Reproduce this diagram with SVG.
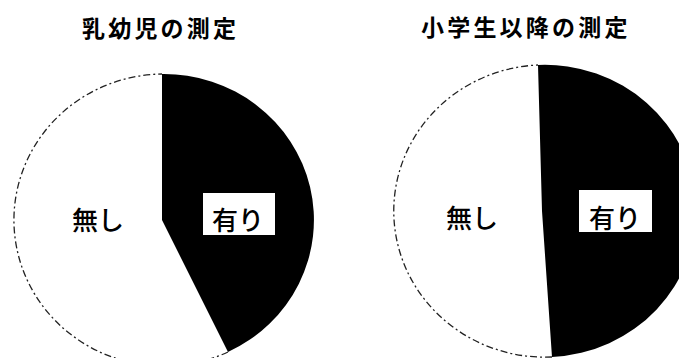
<svg xmlns="http://www.w3.org/2000/svg" width="679" height="358" viewBox="0 0 679 358">
<style>
.title{font-family:"Noto Sans CJK JP","Noto Sans CJK SC",sans-serif;font-weight:700;font-size:23px;letter-spacing:3.2px;fill:#000}
.lbl{font-family:"Noto Sans CJK JP","Noto Sans CJK SC",sans-serif;font-weight:500;font-size:26px;fill:#000}
.dark{fill:#000}
.light{fill:#fff}
.rim{fill:none;stroke:#222;stroke-width:1.3;stroke-dasharray:7 3 2 3}
.box{fill:#fff}
</style>
<rect width="679" height="358" fill="#fff"/>
<g id="chart-left">
  <text class="title" x="82" y="37">乳幼児の測定</text>
  <path id="left-none" class="light" d="M162,220 L228,352 A150,146 0 1,1 162,74 Z"/>
  <path class="rim" d="M228,352 A150,146 0 1,1 162,74"/>
  <path id="left-yes" class="dark" d="M162,74 A150,146 0 0,1 228,352 L162,220 Z"/>
  <text class="lbl" x="72" y="230">無し</text>
  <rect class="box" x="203" y="193" width="72" height="42"/>
  <text class="lbl" x="212" y="230">有り</text>
</g>
<g id="chart-right">
  <text class="title" x="421" y="36">小学生以降の測定</text>
  <path id="right-none" class="light" d="M542,211 L552,357 A151,146 0 1,1 538,65 Z"/>
  <path class="rim" d="M552,357 A151,146 0 1,1 538,65"/>
  <path id="right-yes" class="dark" d="M538,65 A151,146 0 0,1 552,357 L542,211 Z"/>
  <text class="lbl" x="446" y="228">無し</text>
  <rect class="box" x="579" y="190" width="73" height="42"/>
  <text class="lbl" x="589" y="228">有り</text>
</g>
</svg>
